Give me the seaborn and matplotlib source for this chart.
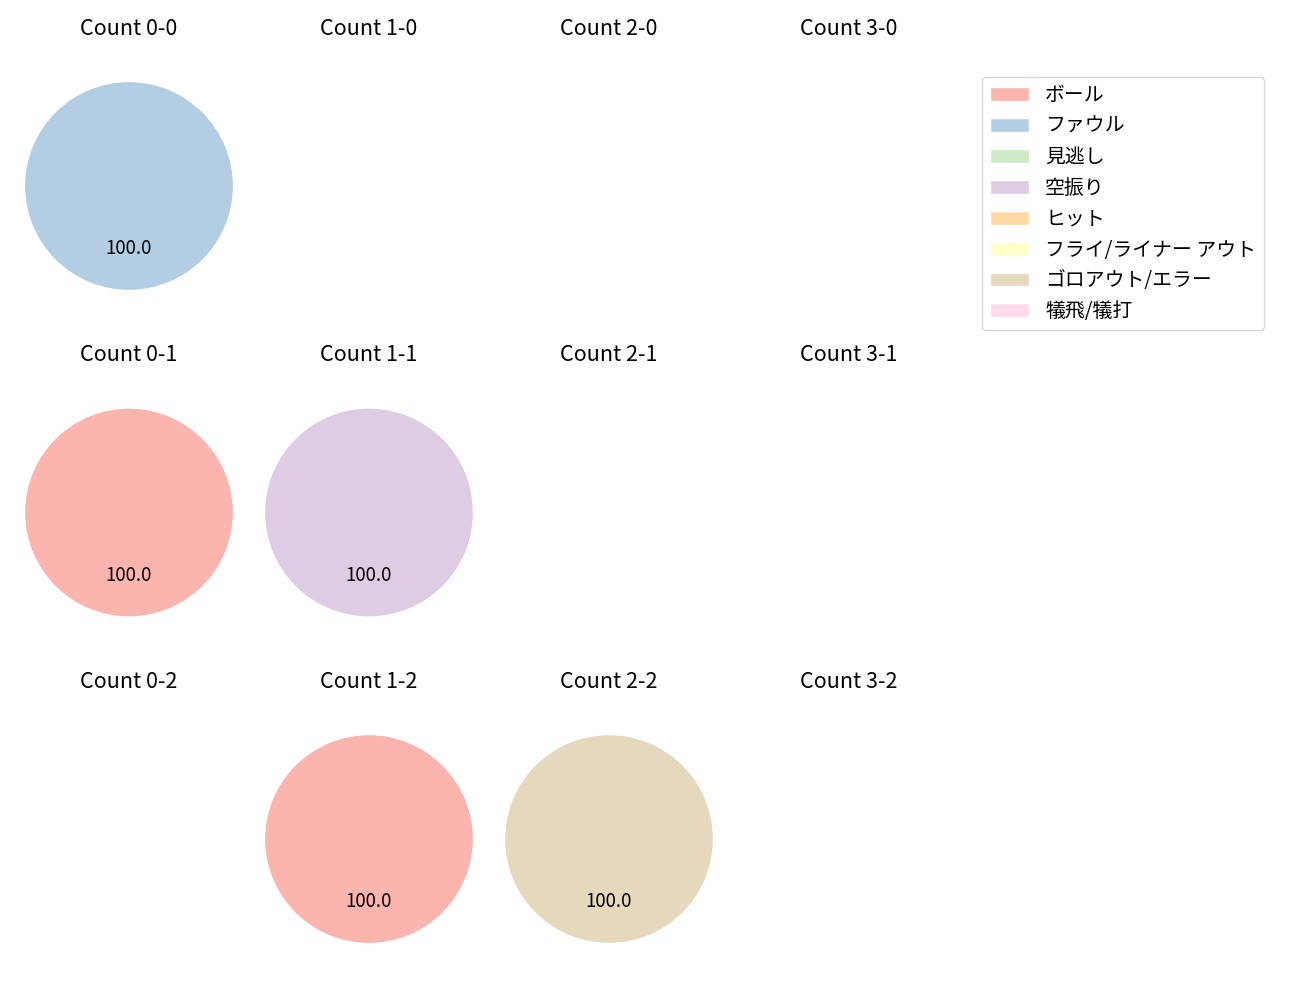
import numpy as np
import matplotlib
matplotlib.use("Agg")
import matplotlib.pyplot as plt
import seaborn as sns
from matplotlib.patches import Patch

# result categories and colours (Pastel1)
categories = ["ボール", "ファウル", "見逃し", "空振り", "ヒット",
              "フライ/ライナー アウト", "ゴロアウト/エラー", "犠飛/犠打"]
colors = sns.color_palette("Pastel1", 8)

# counts: balls 0-3 (columns), strikes 0-2 (rows)
balls = [0, 1, 2, 3]
strikes = [0, 1, 2]

# pitch outcomes per count, in category order
count_0_0 = [0, 1, 0, 0, 0, 0, 0, 0]
count_0_1 = [1, 0, 0, 0, 0, 0, 0, 0]
count_1_1 = [0, 0, 0, 1, 0, 0, 0, 0]
count_1_2 = [1, 0, 0, 0, 0, 0, 0, 0]
count_2_2 = [0, 0, 0, 0, 0, 0, 1, 0]
data = {
    (0, 0): count_0_0,
    (0, 1): count_0_1,
    (1, 1): count_1_1,
    (1, 2): count_1_2,
    (2, 2): count_2_2,
}

sns.set_theme(style="white")
plt.rcParams['font.family'] = ['Noto Sans CJK JP', 'DejaVu Sans']
plt.rcParams['text.color'] = 'black'

fig, axes = plt.subplots(3, 4, figsize=(13, 10), dpi=100)
fig.subplots_adjust(left=0.0069, right=0.7454, top=0.957, bottom=0.018,
                    wspace=0.0, hspace=0.142)

for s in strikes:
    for b in balls:
        ax = axes[s][b]
        vals = data.get((b, s))
        if vals is not None:
            vals = np.array(vals, dtype=float)
            keep = vals > 0
            ax.pie(vals[keep], colors=[c for c, k in zip(colors, keep) if k],
                   autopct='%.1f', startangle=90, counterclock=False,
                   textprops={'fontsize': 13.5, 'color': 'black'})
        ax.set_aspect('equal', adjustable='datalim')
        ax.set_xlim(-1.148, 1.148)
        ax.set_ylim(-1.148, 1.148)
        ax.axis('off')
        ax.set_title(f"Count {b}-{s}", fontsize=15.5, color='black')

handles = [Patch(facecolor=c, label=l) for c, l in zip(colors, categories)]
fig.legend(handles=handles, loc='upper left', bbox_to_anchor=(0.7475, 0.933),
           fontsize=14.3, frameon=True, labelcolor='black')

fig.savefig("out.png")
